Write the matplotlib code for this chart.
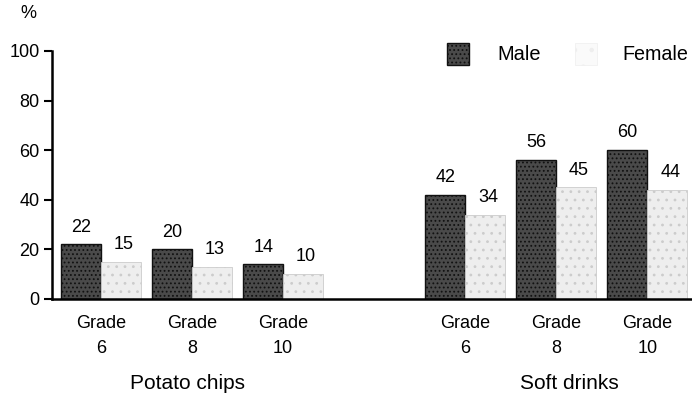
import numpy as np
import matplotlib.pyplot as plt

plt.rcParams['font.family'] = ['Liberation Sans', 'DejaVu Sans']
plt.rcParams['hatch.linewidth'] = 0.8

grades = ['6', '8', '10', '6', '8', '10']
foods = ['Potato chips', 'Soft drinks']
male = [22, 20, 14, 42, 56, 60]
female = [15, 13, 10, 34, 45, 44]

# two groups of three grades with an empty slot between them
pos = np.array([0, 1, 2, 4, 5, 6])
w = 0.44

fig = plt.figure(figsize=(6.92, 3.98), dpi=100)
ax = fig.add_axes([0.075, 0.249, 0.925, 0.623])

plt.rcParams['hatch.color'] = '#a0a0a0'
ax.bar(pos - w / 2, male, w, color='#4a4a4a', edgecolor='#111111',
       linewidth=1.0, hatch='....')
plt.rcParams['hatch.color'] = '#6a6a6a'
ax.bar(pos + w / 2, female, w, color='#eeeeee', edgecolor='#cccccc',
       linewidth=0.6, hatch='..')

for x, m, f in zip(pos, male, female):
    ax.text(x - w / 2, m + 3.5, str(m), ha='center', va='bottom', fontsize=13)
    ax.text(x + w / 2 + 0.03, f + 3.5, str(f), ha='center', va='bottom', fontsize=13)

ax.set_xlim(-0.54, 6.49)
ax.set_ylim(0, 100)
ax.set_yticks(range(0, 101, 20))
ax.tick_params(axis='y', length=6, width=1.5, labelsize=13, pad=3)
ax.set_xticks([])
for s in ['top', 'right']:
    ax.spines[s].set_visible(False)
ax.spines['left'].set_linewidth(1.8)
ax.spines['bottom'].set_linewidth(1.8)

# grade labels under each pair of bars
for x, g in zip(pos, grades):
    ax.text(x, -10, 'Grade', ha='center', va='center', fontsize=13, clip_on=False)
    ax.text(x, -20, g, ha='center', va='center', fontsize=13, clip_on=False)
ax.text(0.95, -34, foods[0], ha='center', va='center', fontsize=15, clip_on=False)
ax.text(5.14, -34, foods[1], ha='center', va='center', fontsize=15, clip_on=False)

fig.text(20 / 692, 1 - 14 / 398, '%', ha='left', va='center', fontsize=13)

# legend drawn as patches in figure coords
plt.rcParams['hatch.color'] = '#a0a0a0'
fig.patches.append(plt.Rectangle((447 / 692, 1 - 65 / 398), 22 / 692, 22 / 398,
                                 transform=fig.transFigure, facecolor='#4a4a4a',
                                 edgecolor='#111111', hatch='....', linewidth=1.0))
plt.rcParams['hatch.color'] = '#9a9a9a'
fig.patches.append(plt.Rectangle((575 / 692, 1 - 65 / 398), 22 / 692, 22 / 398,
                                 transform=fig.transFigure, facecolor='#fafafa',
                                 edgecolor='#eeeeee', hatch='.', linewidth=0.5))
fig.text(497 / 692, 1 - 55 / 398, 'Male', ha='left', va='center', fontsize=14.4)
fig.text(622 / 692, 1 - 55 / 398, 'Female', ha='left', va='center', fontsize=14.2)

fig.savefig('out.png', dpi=100)
